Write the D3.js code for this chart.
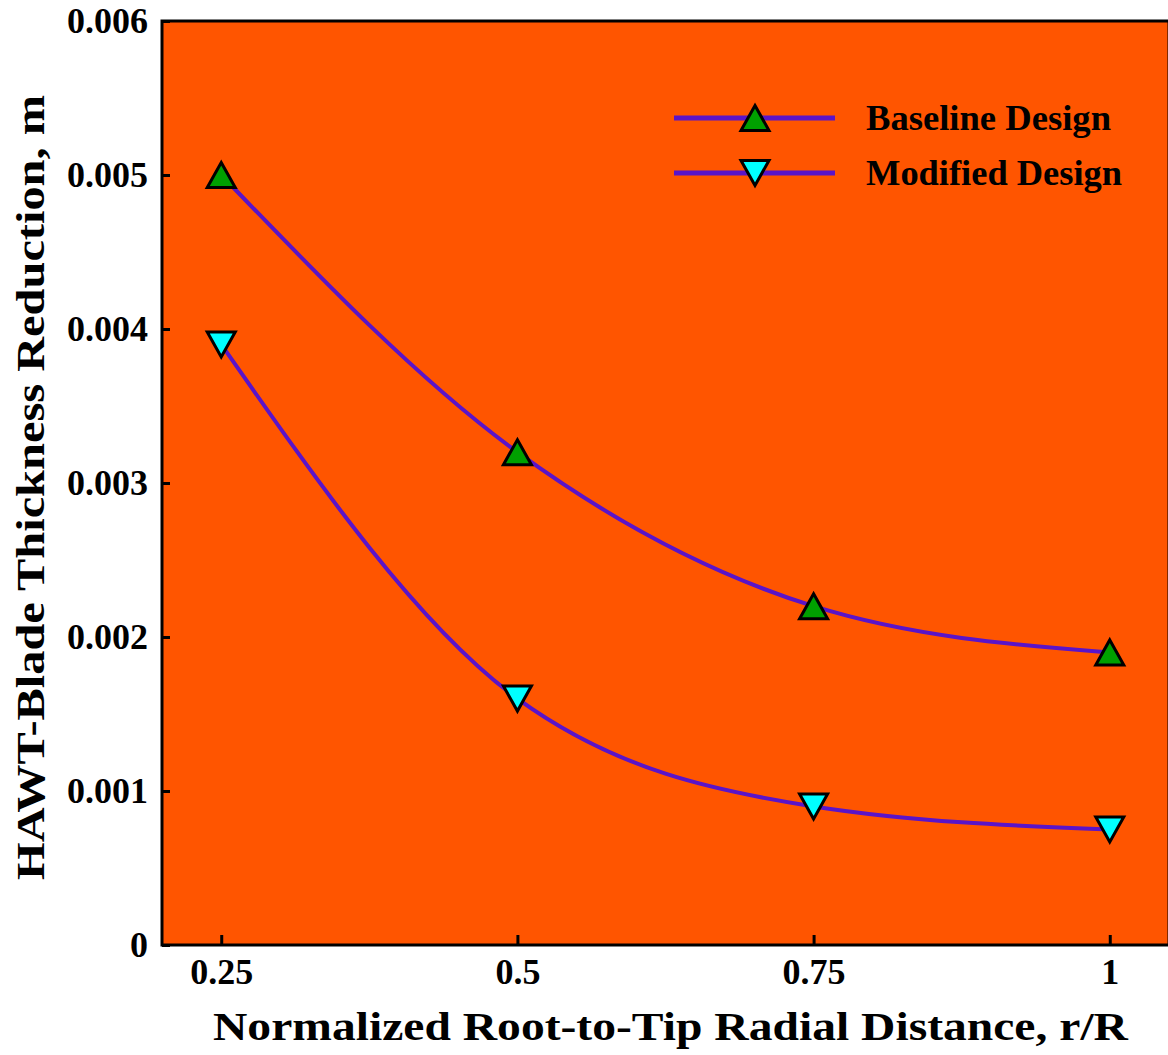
<!DOCTYPE html>
<html>
<head>
<meta charset="utf-8">
<script src="https://cdn.jsdelivr.net/npm/d3@7"></script>
<style>
  html, body { margin: 0; padding: 0; background: #ffffff; }
  svg { display: block; }
  text { font-family: "Liberation Serif", "Times New Roman", serif; font-weight: bold; fill: #000; }
</style>
</head>
<body>
<svg id="chart" width="1168" height="1055"></svg>
<script>
// Radial stations along the blade (r/R)
const radialPositions = [0.25, 0.5, 0.75, 1];
// Thickness reduction (m) for each design
const baselineValues = [0.0050, 0.0032, 0.0022, 0.0019];
const modifiedValues = [0.0039, 0.0016, 0.0009, 0.00075];
const seriesNames = ["Baseline Design", "Modified Design"];
// Axis ticks
const xTicks = [0.25, 0.5, 0.75, 1];
const xTickLabels = ["0.25", "0.5", "0.75", "1"];
const yTicks = [0, 0.001, 0.002, 0.003, 0.004, 0.005, 0.006];
const yTickLabels = ["0", "0.001", "0.002", "0.003", "0.004", "0.005", "0.006"];

const svg = d3.select("#chart");
const plot = { left: 162, right: 1169, top: 21, bottom: 945 };

const x = d3.scaleLinear().domain([0.2, 1.05]).range([plot.left, plot.right]);
const y = d3.scaleLinear().domain([0, 0.006]).range([plot.bottom, plot.top]);

// Plot background
svg.append("rect")
  .attr("x", plot.left).attr("y", plot.top)
  .attr("width", plot.right - plot.left).attr("height", plot.bottom - plot.top)
  .attr("fill", "#ff5500");

// Curves
const line = d3.line()
  .x(d => x(d[0])).y(d => y(d[1]))
  .curve(d3.curveMonotoneX);

const series = [
  { name: seriesNames[0], values: baselineValues, fill: "#00a000", dir: "up", width: 245 },
  { name: seriesNames[1], values: modifiedValues, fill: "#00ffff", dir: "down", width: 256 }
];

const lineColor = "#5a14c8";

series.forEach(s => {
  svg.append("path")
    .datum(radialPositions.map((r, i) => [r, s.values[i]]))
    .attr("d", line)
    .attr("fill", "none")
    .attr("stroke", lineColor)
    .attr("stroke-width", 4);
});

function triPath(cx, cy, dir) {
  const w = 14, h = 12.5;
  if (dir === "up") return `M${cx},${cy - h} L${cx + w},${cy + h} L${cx - w},${cy + h} Z`;
  return `M${cx - w},${cy - h} L${cx + w},${cy - h} L${cx},${cy + h} Z`;
}

series.forEach(s => {
  svg.selectAll(null)
    .data(radialPositions.map((r, i) => [r, s.values[i]]))
    .enter().append("path")
    .attr("d", d => triPath(x(d[0]), y(d[1]), s.dir))
    .attr("fill", s.fill)
    .attr("stroke", "#000")
    .attr("stroke-width", 3)
    .attr("stroke-linejoin", "miter");
});

// Frame
svg.append("rect")
  .attr("x", plot.left).attr("y", plot.top)
  .attr("width", plot.right - plot.left).attr("height", plot.bottom - plot.top)
  .attr("fill", "none").attr("stroke", "#000").attr("stroke-width", 3);

// Axes with inward ticks
const xAxis = d3.axisBottom(x).tickValues(xTicks).tickSize(-10)
  .tickFormat((d, i) => xTickLabels[i]).tickPadding(13);
const gx = svg.append("g").attr("transform", `translate(0,${plot.bottom})`).call(xAxis);
gx.select(".domain").remove();
gx.selectAll("line").attr("stroke", "#000").attr("stroke-width", 3);
gx.selectAll("text")
  .attr("font-family", "Liberation Serif, serif")
  .attr("font-weight", "bold")
  .attr("font-size", 36)
  .attr("dy", "0.71em");

const yAxis = d3.axisLeft(y).tickValues(yTicks).tickSize(-8)
  .tickFormat((d, i) => yTickLabels[i]).tickPadding(14);
const gy = svg.append("g").attr("transform", `translate(${plot.left},0)`).call(yAxis);
gy.select(".domain").remove();
gy.selectAll("line").attr("stroke", "#000").attr("stroke-width", 3);
gy.selectAll("text")
  .attr("font-family", "Liberation Serif, serif")
  .attr("font-weight", "bold")
  .attr("font-size", 36);

// Axis titles
svg.append("text")
  .attr("x", 213).attr("y", 1040)
  .attr("font-size", 41)
  .attr("textLength", 915).attr("lengthAdjust", "spacingAndGlyphs")
  .text("Normalized Root-to-Tip Radial Distance, r/R");

svg.append("text")
  .attr("transform", "translate(44,880) rotate(-90)")
  .attr("font-size", 41)
  .attr("textLength", 785).attr("lengthAdjust", "spacingAndGlyphs")
  .text("HAWT-Blade Thickness Reduction, m");

// Legend
const legend = svg.append("g");
series.forEach((s, i) => {
  const ly = 118 + i * 55;
  legend.append("line")
    .attr("x1", 674).attr("x2", 835).attr("y1", ly).attr("y2", ly)
    .attr("stroke", lineColor).attr("stroke-width", 5);
  legend.append("path")
    .attr("d", triPath(755, ly, s.dir))
    .attr("fill", s.fill).attr("stroke", "#000").attr("stroke-width", 3);
  legend.append("text")
    .attr("x", 866).attr("y", ly + 12)
    .attr("font-size", 35)
    .attr("textLength", s.width).attr("lengthAdjust", "spacingAndGlyphs")
    .text(s.name);
});
</script>
</body>
</html>
